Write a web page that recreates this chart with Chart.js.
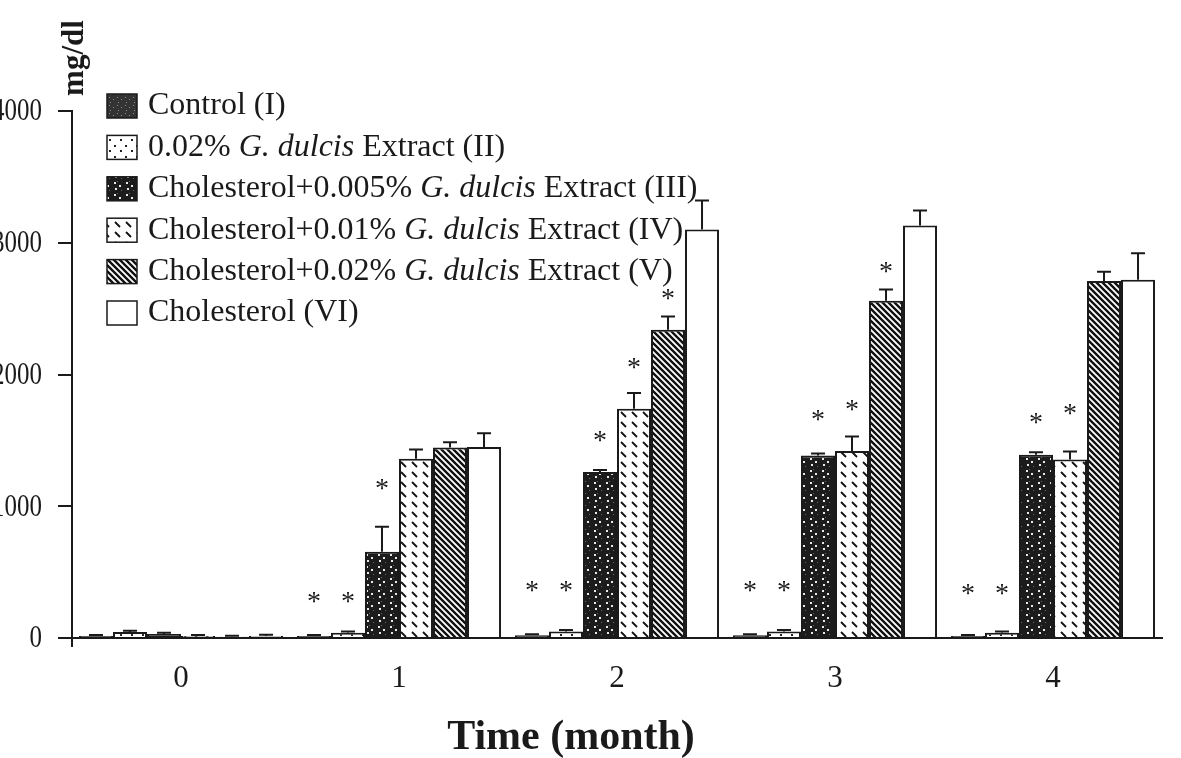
<!DOCTYPE html>
<html>
<head>
<meta charset="utf-8">
<script src="https://cdn.jsdelivr.net/npm/chart.js@4.4.1/dist/chart.umd.min.js"></script>
<style>
  html, body { margin: 0; padding: 0; background: #fff; overflow: hidden; }
  #wrap { position: absolute; left: -20px; top: 0; width: 1201px; height: 758px; }
</style>
</head>
<body>
<div id="wrap"><canvas id="chart" width="1201" height="758"></canvas></div>
<script>
// Data (mg/dl)
const months = ['0', '1', '2', '3', '4'];
const seriesNames = [
  'Control (I)',
  '0.02% G. dulcis Extract (II)',
  'Cholesterol+0.005% G. dulcis Extract (III)',
  'Cholesterol+0.01% G. dulcis Extract (IV)',
  'Cholesterol+0.02% G. dulcis Extract (V)',
  'Cholesterol (VI)'
];
const control     = [15, 15, 20, 20, 15];
const extract002  = [45, 40, 50, 50, 40];
const chol0005    = [30, 655, 1260, 1385, 1390];
const chol001     = [15, 1360, 1740, 1420, 1355];
const chol002     = [10, 1445, 2340, 2560, 2710];
const cholesterol = [15, 1450, 3100, 3130, 2720];

// standard errors (upper whisker only)
const errControl     = [8, 8, 8, 8, 8];
const errExtract002  = [10, 10, 10, 10, 10];
const errChol0005    = [10, 190, 15, 15, 20];
const errChol001     = [8, 70, 120, 110, 60];
const errChol002     = [8, 40, 100, 85, 70];
const errCholesterol = [10, 105, 220, 115, 200];

// height of the significance asterisks (null = none)
const starControl    = [null, 312, 395, 395, 375];
const starExtract002 = [null, 312, 395, 395, 375];
const starChol0005   = [null, 1170, 1530, 1690, 1670];
const starChol001    = [null, null, 2085, 1765, 1735];
const starChol002    = [null, null, 2610, 2815, null];
const starCholesterol = [null, null, null, null, null];

const yTicks = [0, 1000, 2000, 3000, 4000];

const ink = '#1a1a1a';
const serif = "'Liberation Serif', 'Times New Roman', serif";
const ctx = document.getElementById('chart').getContext('2d');

// fill patterns imitating the printed hatching
function makePattern(w, h, paint) {
  const c = document.createElement('canvas');
  c.width = w; c.height = h;
  paint(c.getContext('2d'), w, h);
  return ctx.createPattern(c, 'repeat');
}
const patControl = makePattern(8, 8, (g, w, h) => {
  g.fillStyle = '#333'; g.fillRect(0, 0, w, h);
  g.fillStyle = '#8a8a8a';
  g.fillRect(1, 1, 1, 1); g.fillRect(5, 3, 1, 1); g.fillRect(2, 6, 1, 1);
});
const patExtract = makePattern(11, 11, (g, w, h) => {
  g.fillStyle = '#fff'; g.fillRect(0, 0, w, h);
  g.fillStyle = '#222';
  g.fillRect(2, 2, 2, 2); g.fillRect(8, 7, 2, 2);
});
const patChol0005 = makePattern(12, 12, (g, w, h) => {
  g.fillStyle = '#1c1c1c'; g.fillRect(0, 0, w, h);
  g.fillStyle = '#e8e8e8';
  g.fillRect(2, 2, 2, 2); g.fillRect(7, 5, 2, 2); g.fillRect(3, 8, 2, 2);
  g.fillStyle = '#666';
  g.fillRect(9, 10, 1, 1); g.fillRect(5, 1, 1, 1);
});
const patChol001 = makePattern(11, 10, (g, w, h) => {
  g.fillStyle = '#fff'; g.fillRect(0, 0, w, h);
  g.strokeStyle = '#111'; g.lineWidth = 1.8;
  g.beginPath(); g.moveTo(3, 2); g.lineTo(8, 7); g.stroke();
});
const patChol002 = makePattern(6, 6, (g, w, h) => {
  g.fillStyle = '#fff'; g.fillRect(0, 0, w, h);
  g.strokeStyle = '#111'; g.lineWidth = 2.4;
  g.beginPath();
  g.moveTo(0, 0); g.lineTo(w, h);
  g.moveTo(-1, h - 1); g.lineTo(1, h + 1);
  g.moveTo(w - 1, -1); g.lineTo(w + 1, 1);
  g.stroke();
});
const patCholesterol = '#fff';

const fills = [patControl, patExtract, patChol0005, patChol001, patChol002, patCholesterol];
const values = [control, extract002, chol0005, chol001, chol002, cholesterol];
const errors = [errControl, errExtract002, errChol0005, errChol001, errChol002, errCholesterol];
const stars = [starControl, starExtract002, starChol0005, starChol001, starChol002, starCholesterol];

// whiskers, asterisks, legend, y labels and titles
const decorations = {
  id: 'decorations',
  afterDatasetsDraw(chart) {
    const c = chart.ctx;
    const y = chart.scales.y;
    c.save();
    c.strokeStyle = ink;
    c.fillStyle = ink;
    c.lineWidth = 2;
    chart.data.datasets.forEach((ds, i) => {
      const meta = chart.getDatasetMeta(i);
      meta.data.forEach((bar, j) => {
        const top = y.getPixelForValue(values[i][j] + errors[i][j]);
        c.beginPath();
        c.moveTo(bar.x, bar.y);
        c.lineTo(bar.x, top);
        c.moveTo(bar.x - 7, top);
        c.lineTo(bar.x + 7, top);
        c.stroke();
        if (stars[i][j] !== null) {
          c.font = `28px ${serif}`;
          c.textAlign = 'center';
          c.textBaseline = 'alphabetic';
          c.fillText('*', bar.x, y.getPixelForValue(stars[i][j]) + 13);
        }
      });
    });
    // y axis runs a little below the baseline
    const area = chart.chartArea;
    c.beginPath();
    c.moveTo(area.left, area.bottom);
    c.lineTo(area.left, area.bottom + 9);
    c.stroke();
    c.restore();
  },
  afterDraw(chart) {
    const c = chart.ctx;
    const y = chart.scales.y;
    c.save();
    c.fillStyle = ink;

    // y tick labels, narrow like the print
    c.font = `32px ${serif}`;
    c.textAlign = 'right';
    c.textBaseline = 'middle';
    yTicks.forEach(v => {
      c.save();
      c.translate(62, y.getPixelForValue(v) + 1);
      c.scale(0.78, 1);
      c.fillText(String(v), 0, 0);
      c.restore();
    });

    // legend
    const sx = 127, tx = 168, y0 = 106, step = 41.4;
    seriesNames.forEach((name, i) => {
      const cy = y0 + i * step;
      c.fillStyle = fills[i];
      c.fillRect(sx, cy - 12, 30, 24);
      c.strokeStyle = ink; c.lineWidth = 1.5;
      c.strokeRect(sx, cy - 12, 30, 24);
      c.fillStyle = ink;
      c.textBaseline = 'middle';
      c.textAlign = 'left';
      const parts = name.split('G. dulcis');
      let x = tx;
      parts.forEach((p, k) => {
        c.font = `32px ${serif}`;
        c.fillText(p, x, cy);
        x += c.measureText(p).width;
        if (k < parts.length - 1) {
          c.font = `italic 32px ${serif}`;
          c.fillText('G. dulcis', x, cy);
          x += c.measureText('G. dulcis').width;
        }
      });
    });

    // x axis title
    c.font = `bold 42px ${serif}`;
    c.textAlign = 'center';
    c.textBaseline = 'alphabetic';
    c.fillText('Time (month)', 591, 749);

    // unit label
    c.translate(95, 58);
    c.rotate(-Math.PI / 2);
    c.font = `bold 31px ${serif}`;
    c.textAlign = 'center';
    c.textBaseline = 'middle';
    c.fillText('mg/dl', 0, 0);
    c.restore();
  }
};

new Chart(ctx, {
  type: 'bar',
  data: {
    labels: months,
    datasets: seriesNames.map((name, i) => ({
      label: name,
      data: values[i],
      backgroundColor: fills[i],
      borderColor: ink,
      borderWidth: 2,
      barPercentage: 1,
      categoryPercentage: 0.936
    }))
  },
  options: {
    responsive: false,
    animation: false,
    devicePixelRatio: 1,
    layout: { padding: { top: 111, right: 19, left: 0, bottom: 0 } },
    plugins: { legend: { display: false }, tooltip: { enabled: false } },
    scales: {
      x: {
        grid: { display: false, drawTicks: false },
        border: { display: true, color: ink, width: 2 },
        ticks: { font: { family: serif, size: 31 }, color: ink, padding: 22 },
        afterFit(s) { s.height = 120; }
      },
      y: {
        min: 0, max: 4000,
        afterBuildTicks(s) { s.ticks = yTicks.map(v => ({ value: v })); },
        ticks: { display: false },
        grid: { drawOnChartArea: false, drawTicks: true, tickLength: 14, color: ink, lineWidth: 2 },
        border: { display: true, color: ink, width: 2 },
        afterFit(s) { s.width = 92; }
      }
    }
  },
  plugins: [decorations]
});
</script>
</body>
</html>
